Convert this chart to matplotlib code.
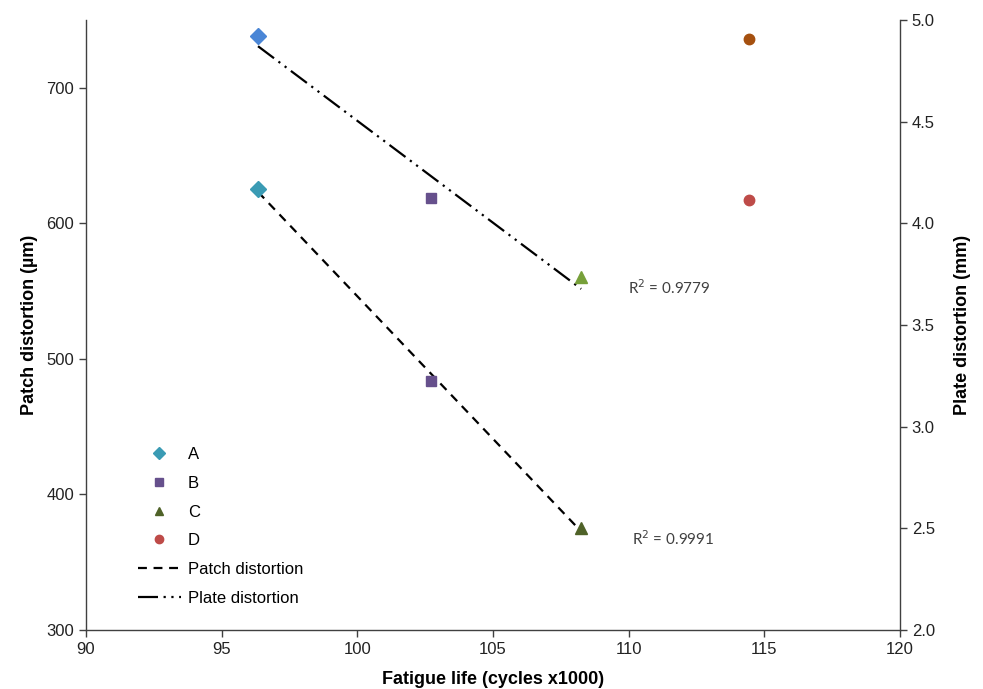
import matplotlib.pyplot as plt
from matplotlib.lines import Line2D
import numpy as np

plt.rcParams['font.family'] = ['Liberation Sans', 'DejaVu Sans']

groups = ['A', 'B', 'C', 'D']
fatigue_life = [96.34, 102.72, 108.25, 114.44]  # cycles x1000
patch_um = [625.5, 484.0, 375.4, 617.0]
plate_mm = [4.92, 4.126, 3.734, 4.908]
r2_patch = 'R$^2$ = 0.9991'
r2_plate = 'R$^2$ = 0.9779'

markers = ['D', 's', '^', 'o']
msizes = [8, 7, 8, 7.5]
patch_colors = ['#3A9BB4', '#66508C', '#4F6228', '#BE4B48']
plate_colors = ['#4A86D6', '#66508C', '#77A03A', '#A5500F']

fig = plt.figure(figsize=(9.83, 6.89), dpi=100)
ax = fig.add_axes([0.0875, 0.0856, 0.828, 0.8854])
ax2 = ax.twinx()

for i, g in enumerate(groups):
    ax.plot(fatigue_life[i], patch_um[i], marker=markers[i], ms=msizes[i],
            color=patch_colors[i], ls='none', zorder=3)
    ax2.plot(fatigue_life[i], plate_mm[i], marker=markers[i], ms=msizes[i],
             color=plate_colors[i], ls='none', zorder=3)

# linear trendlines through A, B, C
x_fit = np.array(fatigue_life[:3])
p_patch = np.polyfit(x_fit, patch_um[:3], 1)
p_plate = np.polyfit(x_fit, plate_mm[:3], 1)
xl = np.array([x_fit[0], x_fit[-1]])
patch_dash = (0, (4, 3))
plate_dash = (0, (9, 2.5, 1, 2.5, 1, 2.5))
ax.plot(xl, np.polyval(p_patch, xl), color='black', lw=1.6, ls=patch_dash, zorder=2)
ax2.plot(xl, np.polyval(p_plate, xl), color='black', lw=1.6, ls=plate_dash, zorder=2)

ax.text(109.98, 552.5, r2_plate, fontsize=11, family=['Lato', 'DejaVu Sans'],
        color='#404040', ha='left', va='center')
ax.text(110.13, 367.5, r2_patch, fontsize=11, family=['Lato', 'DejaVu Sans'],
        color='#404040', ha='left', va='center')

ax.set_xlim(90, 120)
ax.set_ylim(300, 750)
ax2.set_ylim(2.0, 5.0)
ax.set_xticks(np.arange(90, 121, 5))
ax.set_yticks(np.arange(300, 701, 100))
ax2.set_yticks(np.arange(2.0, 5.01, 0.5))
ax2.set_yticklabels(['%.1f' % v for v in np.arange(2.0, 5.01, 0.5)])

for a in (ax, ax2):
    a.spines['top'].set_visible(False)
    for s in a.spines.values():
        s.set_color('#404040')
        s.set_linewidth(1.0)
    a.tick_params(direction='out', length=5, width=1, colors='#404040',
                  labelsize=12, labelcolor='#222222')
ax.spines['right'].set_visible(False)
ax2.spines['left'].set_visible(False)
ax2.spines['bottom'].set_visible(False)

ax.set_xlabel('Fatigue life (cycles x1000)', fontsize=13, fontweight='bold', labelpad=10)
ax.set_ylabel('Patch distortion (\u00b5m)', fontsize=13, fontweight='bold', labelpad=6)
ax2.set_ylabel('Plate distortion (mm)', fontsize=13, fontweight='bold', labelpad=14)

handles = [Line2D([], [], marker=markers[i], ms=msizes[i] * 0.8, color=patch_colors[i], ls='none')
           for i in range(4)]
handles.append(Line2D([], [], color='black', lw=1.6, ls=patch_dash))
handles.append(Line2D([], [], color='black', lw=1.6, ls=plate_dash))
labels = groups + ['Patch distortion', 'Plate distortion']
ax.legend(handles, labels, loc='lower left', bbox_to_anchor=(0.045, 0.0155),
          frameon=False, fontsize=12, labelspacing=0.82, handlelength=2.6,
          handletextpad=0.4)

fig.savefig('out.png', dpi=100)
